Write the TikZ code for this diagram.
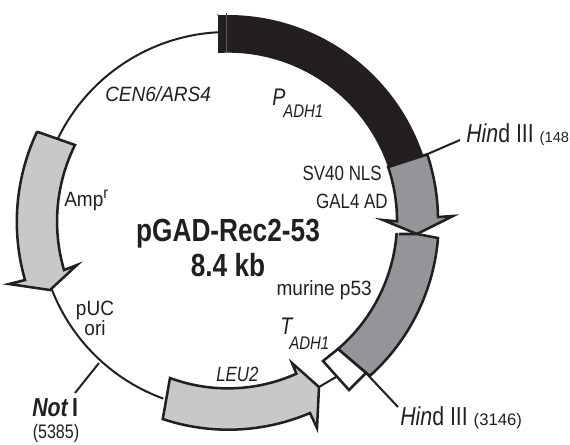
\documentclass[tikz,border=0pt]{standalone}
\usepackage{fontspec}
\setmainfont[FakeStretch=0.82]{Liberation Sans}
\newfontfamily\widef[FakeStretch=0.92]{Liberation Sans}
\newfontfamily\numf{Liberation Sans}
\definecolor{blk}{HTML}{231F20}
\definecolor{midgray}{HTML}{939598}
\definecolor{ltgray}{HTML}{C7C8CA}
\tikzset{
  seg/.style={draw=blk,line width=1.9pt,line join=miter,miter limit=8},
  wire/.style={draw=blk,line width=1.5pt},
  lab/.style={inner sep=0pt,text=blk,font=\fontsize{15.5}{15.5}\selectfont},
  wlab/.style={inner sep=0pt,text=blk,font=\widef\fontsize{15.5}{15}\selectfont},
  small/.style={inner sep=0pt,text=blk,font=\fontsize{13.7}{14}\selectfont},
  head/.style={inner sep=0pt,text=blk,align=center,font=\fontsize{24}{26}\selectfont\bfseries}
}
\begin{document}
\begin{tikzpicture}[x=0.75pt,y=0.75pt]
\useasboundingbox (-228,-223) rectangle (342,221);
% backbone
\draw[wire] (92:189) arc[start angle=92,end angle=155,radius=189];
\draw[wire] (200:189) arc[start angle=200,end angle=250,radius=189];
\coordinate (leuTip) at (91,-166);
\coordinate (boxMid) at (108,-156);
\draw[wire] (leuTip) -- (boxMid);
% P_ADH1 black segment
\fill[blk] (-10,208) -- (-10,168) arc[start angle=93.4,end angle=18.6,radius=169] -- (18.4:206) arc[start angle=18.4,end angle=93,radius=206] -- cycle;
\draw[midgray!60!black,line width=0.2pt] (-2,208) -- (-2,168);
% GAL4 AD arrow
\draw[seg,fill=midgray] (18.6:169) arc[start angle=18.6,end angle=0,radius=170] -- (155,1) -- (189,-13) -- (225,5) -- (210,4) arc[start angle=1,end angle=18.4,radius=210] -- cycle;
% p53 segment
\draw[seg,fill=midgray] (171,-13) -- (189,-13) -- (210,-17) arc[start angle=-4.6,end angle=-48,radius=208] -- (110,-128) arc[start angle=-49.3,end angle=-4.3,radius=170] ;
% T_ADH1 box
\coordinate (boxA) at (110,-128);
\coordinate (boxB) at (138,-152);
\coordinate (boxC) at (121,-169);
\coordinate (boxD) at (95,-140);
\draw[seg,fill=white] (boxA) -- (boxB) -- (boxC) -- (boxD) -- cycle;
% LEU2 arrow
\draw[seg,fill=ltgray] (-58,-157) arc[start angle=249.7,end angle=294.2,radius=167] -- (64,-142) -- (91,-166) -- (89,-207) -- (82,-192) arc[start angle=-66.9,end angle=-108.4,radius=208] -- cycle;
% Amp arrow
\draw[seg,fill=ltgray] (-190,89) -- (-153,76) arc[start angle=153.6,end angle=196.4,radius=172] -- (-151,-44) -- (-178,-69) -- (-219,-63) -- (-203,-59) arc[start angle=196,end angle=154.9,radius=211] -- cycle;
% site lines
\coordinate (hindA) at (195,65);
\coordinate (hindAend) at (232,81);
\coordinate (hindB) at (138,-152);
\coordinate (hindBend) at (170,-186);
\coordinate (notA) at (-129,-142);
\coordinate (notAend) at (-153,-172);
\draw[wire] (hindA) -- (hindAend);
\draw[wire] (hindB) -- (hindBend);
\draw[wire] (notA) -- (notAend);
% labels
\node[wlab,anchor=west] (cen) at (-123,127) {\itshape CEN6/ARS4};
\node[lab,anchor=west] (padh) at (44,124) {\fontsize{18}{18}\selectfont\itshape P};
\node[small,anchor=west] (padhs) at (55,110) {\itshape ADH1};
\node[lab,anchor=west] (hind1) at (238,86) {\fontsize{19.5}{19.5}\selectfont\itshape Hin\upshape d III \numf\fontsize{11}{11}\selectfont(148};
\node[lab,anchor=east] (sv) at (154,48) {SV40 NLS};
\node[lab,anchor=east] (gal) at (160,20) {GAL4 AD};
\node[head] (title) at (0,-27) {pGAD-Rec2-53\\8.4 kb};
\node[wlab,anchor=east] (mur) at (144,-69) {murine p53};
\node[lab,anchor=west] (tadh) at (52,-105) {\fontsize{18}{18}\selectfont\itshape T};
\node[small,anchor=west] (tadhs) at (61,-122) {\itshape ADH1};
\node[lab,anchor=west] (leu) at (-12,-153) {\itshape LEU2};
\node[wlab,anchor=west] (amp) at (-164,21) {Amp\raisebox{6pt}{\fontsize{12}{12}\selectfont r}};
\node[wlab,align=center] (puc) at (-133,-97) {pUC\\ori};
\node[anchor=west,inner sep=0pt,text=blk] (not) at (-196,-187) {\fontsize{19.5}{19.5}\selectfont\bfseries\itshape Not\,\upshape I};
\node[small] (notn) at (-172,-212) {\fontsize{14.7}{15}\selectfont (5385)};
\node[lab,anchor=west] (hind2) at (172,-197) {\fontsize{19.5}{19.5}\selectfont\itshape Hin\upshape d III \numf\fontsize{12.5}{12.5}\selectfont(3146)};
\end{tikzpicture}
\end{document}
